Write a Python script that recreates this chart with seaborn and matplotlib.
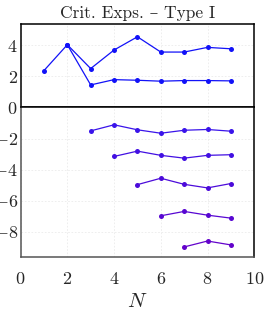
import pandas as pd
import seaborn as sns
import matplotlib.pyplot as plt

# data
n_a = [1, 2, 3, 4, 5, 6, 7, 8, 9]
exp_a = [2.36, 4.02, 2.49, 3.68, 4.53, 3.55, 3.55, 3.85, 3.76]
n_b = [2, 3, 4, 5, 6, 7, 8, 9]
exp_b = [4.02, 1.44, 1.78, 1.74, 1.68, 1.72, 1.72, 1.70]

n_c = [3, 4, 5, 6, 7, 8, 9]
exp_c = [-1.51, -1.12, -1.44, -1.66, -1.47, -1.42, -1.53]
n_d = [4, 5, 6, 7, 8, 9]
exp_d = [-3.15, -2.81, -3.08, -3.26, -3.08, -3.04]
n_e = [5, 6, 7, 8, 9]
exp_e = [-4.96, -4.55, -4.94, -5.17, -4.89]
n_f = [6, 7, 8, 9]
exp_f = [-6.96, -6.68, -6.92, -7.11]
n_g = [7, 8, 9]
exp_g = [-8.96, -8.58, -8.83]

top_series = [(n_a, exp_a, '#1212f8'), (n_b, exp_b, '#1212f8')]
bottom_series = [(n_c, exp_c, '#3a14ea'), (n_d, exp_d, '#4210e2'),
                 (n_e, exp_e, '#4c0bda'), (n_f, exp_f, '#5807d2'),
                 (n_g, exp_g, '#6303cb')]

sns.set_style('whitegrid', {'grid.linestyle': (0, (2, 2)), 'grid.color': '#ebebeb'})
plt.rcParams['font.family'] = ['cmr10', 'DejaVu Serif']
plt.rcParams['mathtext.fontset'] = 'cm'
plt.rcParams['axes.formatter.use_mathtext'] = True
plt.rcParams['grid.linewidth'] = 0.6

fig = plt.figure(figsize=(2.64, 3.16), dpi=100)
gs = fig.add_gridspec(2, 1, height_ratios=[5.35, 9.62], hspace=0,
                      left=0.078, right=0.963, top=0.924, bottom=0.186)
ax1 = fig.add_subplot(gs[0])
ax2 = fig.add_subplot(gs[1], sharex=ax1)

for xs, ys, c in top_series:
    df = pd.DataFrame({'N': xs, 'exp': ys})
    sns.lineplot(data=df, x='N', y='exp', ax=ax1, color=c, marker='o',
                 markersize=3.6, markeredgewidth=0, linewidth=0.9)
for xs, ys, c in bottom_series:
    df = pd.DataFrame({'N': xs, 'exp': ys})
    sns.lineplot(data=df, x='N', y='exp', ax=ax2, color=c, marker='o',
                 markersize=3.6, markeredgewidth=0, linewidth=0.9)

ax1.set_xlim(0, 10)
ax1.set_ylim(0, 5.35)
ax2.set_ylim(-9.62, 0)
ax1.set_yticks([2, 4])
ax2.set_yticks([-8, -6, -4, -2, 0])
ax2.set_xticks([0, 2, 4, 6, 8, 10])
ax1.tick_params(labelbottom=False, length=0, labelsize=13, pad=2)
ax2.tick_params(axis='y', length=0, labelsize=13, pad=2)
ax2.tick_params(axis='x', length=0, labelsize=13, pad=10)
ax1.set_xlabel('')
ax1.set_ylabel('')
ax2.set_ylabel('')
ax2.set_xlabel('$N$', fontsize=15, labelpad=4)
ax1.set_title('Crit. Exps. – Type I', fontsize=12.5, pad=4)

for s in ax1.spines.values():
    s.set_color('black')
    s.set_linewidth(1.1)
for name, s in ax2.spines.items():
    s.set_linewidth(1.1)
    s.set_color('black' if name in ('top', 'right') else '#555555')

plt.savefig('out.png', dpi=100)
